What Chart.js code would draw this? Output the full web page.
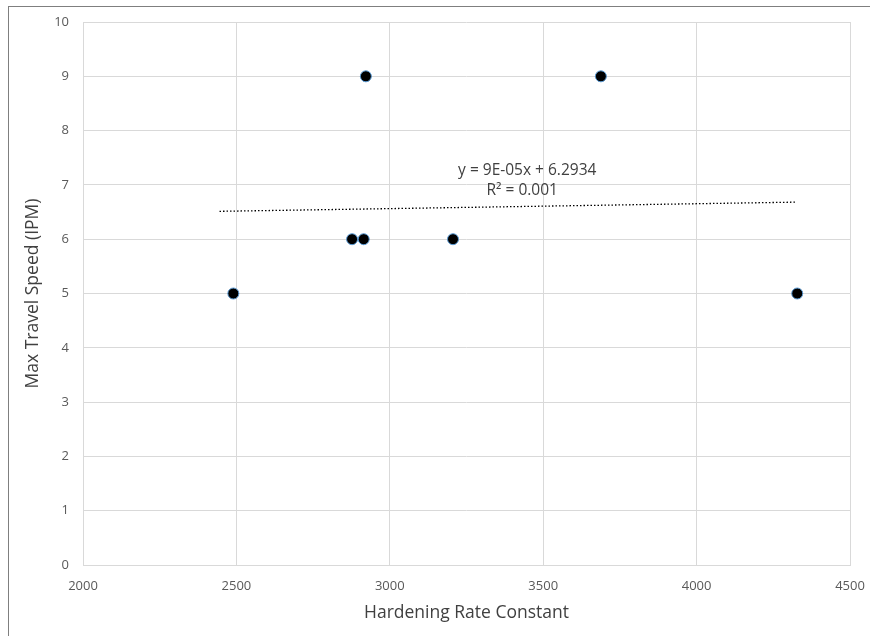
<!DOCTYPE html>
<html>
<head>
<meta charset="utf-8">
<script src="https://cdn.jsdelivr.net/npm/chart.js@4"></script>
<style>
	html, body { margin: 0; padding: 0; background: #fff; overflow: hidden; }
	#wrap { position: relative; width: 870px; height: 636px; }
	#frame { position: absolute; left: 8px; top: 6px; width: 900px; height: 700px; border: 1px solid #7f7f7f; pointer-events: none; }
</style>
</head>
<body>
<div id="wrap">
	<canvas id="scatterChart" width="870" height="636"></canvas>
	<div id="frame"></div>
</div>
<script>
const hardeningRate = [2490, 2877, 2915, 2922, 3206, 3688, 4328];
const maxTravelSpeed = [5, 6, 6, 9, 6, 9, 5];

// linear trendline as reported on the chart
const trendSlope = 9e-5;
const trendIntercept = 6.2934;
const trendRange = [2445, 4326];
const trendLabel = ['y = 9E-05x + 6.2934', 'R\u00b2 = 0.001'];

const xTitle = 'Hardening Rate Constant';
const yTitle = 'Max Travel Speed (IPM)';

const fontFamily = "'Open Sans', 'Liberation Sans', sans-serif";
const gridColor = '#d9d9d9';
const textColor = '#595959';

const points = hardeningRate.map((x, i) => ({ x, y: maxTravelSpeed[i] }));
const trendPoints = trendRange.map((x) => ({ x, y: trendSlope * x + trendIntercept }));

// writes the equation above the trendline
const equationLabel = {
	id: 'equationLabel',
	afterDatasetsDraw(chart) {
		const { ctx, scales } = chart;
		const cx = scales.x.getPixelForValue(3448);
		const cy = scales.y.getPixelForValue(7.27);
		ctx.save();
		ctx.fillStyle = '#404040';
		ctx.font = `15.5px ${fontFamily}`;
		ctx.textAlign = 'center';
		ctx.textBaseline = 'middle';
		ctx.fillText(trendLabel[0], cx, cy);
		ctx.fillText(trendLabel[1], cx - 5, cy + 20);
		ctx.restore();
	},
};

new Chart(document.getElementById('scatterChart'), {
	type: 'scatter',
	data: {
		datasets: [
			{
				data: points,
				backgroundColor: '#000000',
				borderColor: '#5b9bd5',
				borderWidth: 1,
				pointRadius: 5.5,
				pointHoverRadius: 5.5,
			},
			{
				type: 'line',
				data: trendPoints,
				borderColor: '#000000',
				borderWidth: 1.3,
				borderDash: [1.5, 2],
				pointRadius: 0,
				fill: false,
			},
		],
	},
	options: {
		responsive: false,
		animation: false,
		layout: { padding: { left: 23, top: 22, right: 20, bottom: 12 } },
		plugins: {
			legend: { display: false },
			tooltip: { enabled: false },
		},
		scales: {
			x: {
				type: 'linear',
				min: 2000,
				max: 4500,
				ticks: { stepSize: 500, color: textColor, padding: 13, callback: (v) => String(v), font: { family: fontFamily, size: 13 } },
				grid: { color: gridColor, drawTicks: false },
				border: { color: gridColor },
				title: { display: true, text: xTitle, color: '#404040', padding: { top: 3, bottom: 0 }, font: { family: fontFamily, size: 17.5 } },
				afterFit: (s) => {
					s.height = 636 - 565 - 12;
					s.paddingLeft = 0;
					s.paddingRight = 0;
				},
			},
			y: {
				min: 0,
				max: 10,
				ticks: { stepSize: 1, color: textColor, padding: 14, font: { family: fontFamily, size: 13 } },
				grid: { color: gridColor, drawTicks: false },
				border: { display: false },
				title: { display: true, text: yTitle, color: '#404040', padding: 0, font: { family: fontFamily, size: 17.5 } },
				afterFit: (s) => { s.width = 83 - 23; },
			},
		},
	},
	plugins: [equationLabel],
});
</script>
</body>
</html>
